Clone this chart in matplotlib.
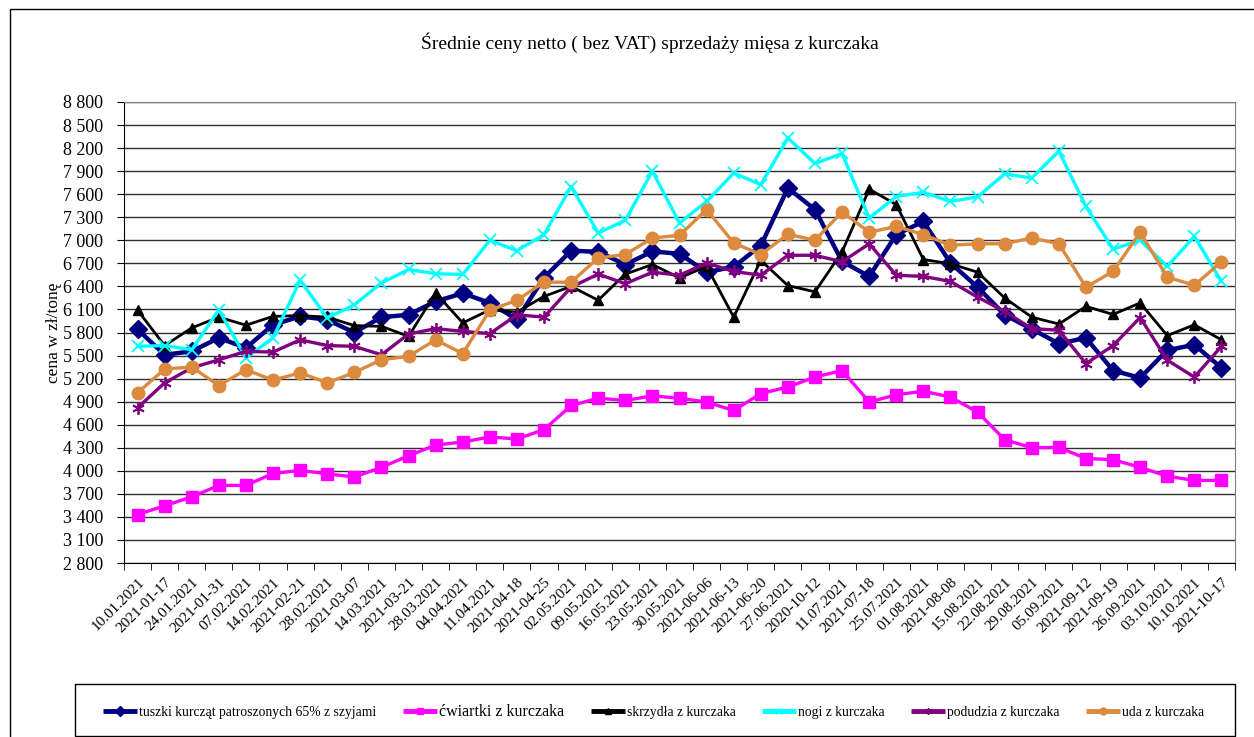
import numpy as np
import matplotlib
matplotlib.use("Agg")
import matplotlib.pyplot as plt
from matplotlib.patches import Rectangle
from matplotlib.ticker import FuncFormatter

plt.rcParams["font.family"] = ["Liberation Serif", "DejaVu Serif"]

dates = ["10.01.2021", "2021-01-17", "24.01.2021", "2021-01-31", "07.02.2021", "14.02.2021",
         "2021-02-21", "28.02.2021", "2021-03-07", "14.03.2021", "2021-03-21", "28.03.2021",
         "04.04.2021", "11.04.2021", "2021-04-18", "2021-04-25", "02.05.2021", "09.05.2021",
         "16.05.2021", "23.05.2021", "30.05.2021", "2021-06-06", "2021-06-13", "2021-06-20",
         "27.06.2021", "2020-10-12", "11.07.2021", "2021-07-18", "25.07.2021", "01.08.2021",
         "2021-08-08", "15.08.2021", "22.08.2021", "29.08.2021", "05.09.2021", "2021-09-12",
         "2021-09-19", "26.09.2021", "03.10.2021", "10.10.2021", "2021-10-17"]

tuszki = [5840, 5510, 5555, 5730, 5600, 5900, 6010, 5965, 5800, 6000, 6030, 6205, 6310,
          6185, 5970, 6515, 6865, 6850, 6685, 6855, 6825, 6585, 6655, 6930, 7680, 7400, 6725,
          6530, 7075, 7245, 6705, 6390, 6030, 5845, 5655, 5730, 5305, 5210, 5570, 5640, 5340]
cwiartki = [3430, 3545, 3660, 3810, 3810, 3965, 4005, 3960, 3920, 4045, 4195, 4335, 4375,
            4440, 4415, 4535, 4850, 4945, 4915, 4975, 4945, 4895, 4785, 5005, 5090, 5220, 5305,
            4895, 4990, 5035, 4960, 4765, 4405, 4300, 4305, 4160, 4145, 4045, 3930, 3875, 3875]
skrzydla = [6090, 5630, 5860, 6000, 5895, 6010, 6020, 6000, 5890, 5880, 5750, 6315, 5925,
            6095, 6065, 6270, 6400, 6220, 6560, 6685, 6510, 6660, 6000, 6740, 6410, 6330, 6850,
            7665, 7465, 6750, 6695, 6585, 6250, 6000, 5910, 6140, 6035, 6185, 5760, 5900, 5705]
nogi = [5620, 5630, 5575, 6095, 5470, 5730, 6480, 5990, 6160, 6445, 6620, 6565, 6555,
        7000, 6865, 7075, 7700, 7095, 7260, 7900, 7225, 7505, 7875, 7725, 8330, 8000, 8130,
        7290, 7570, 7625, 7505, 7565, 7865, 7810, 8160, 7440, 6885, 7000, 6660, 7050, 6465]
podudzia = [4820, 5145, 5340, 5445, 5555, 5545, 5705, 5630, 5620, 5510, 5780, 5850, 5815,
            5785, 6030, 6000, 6390, 6560, 6435, 6585, 6545, 6705, 6595, 6545, 6805, 6805, 6720,
            6955, 6545, 6530, 6465, 6260, 6075, 5850, 5830, 5395, 5630, 5995, 5440, 5220, 5620]
uda = [5015, 5325, 5350, 5110, 5315, 5180, 5275, 5145, 5280, 5445, 5490, 5705, 5525,
       6090, 6220, 6455, 6455, 6770, 6815, 7030, 7065, 7400, 6965, 6815, 7080, 7000, 7370,
       7105, 7180, 7075, 6935, 6955, 6955, 7030, 6955, 6390, 6595, 7105, 6520, 6415, 6720]

y_ticks = list(range(2800, 8801, 300))

ASTER = (6, 2, 0)   # excel-like asterisk marker
series = [
    ("tuszki kurcząt patroszonych 65% z szyjami", tuszki, "#000080", "D", 3.2, 9),
    ("ćwiartki z kurczaka", cwiartki, "#FF00FF", "s", 2.4, 8.5),
    ("skrzydła z kurczaka", skrzydla, "#000000", "^", 2.0, 6.5),
    ("nogi z kurczaka", nogi, "#00FFFF", "x", 2.4, 8.5),
    ("podudzia z kurczaka", podudzia, "#800080", ASTER, 2.4, 9),
    ("uda z kurczaka", uda, "#DB8A3E", "o", 2.4, 9),
]

W, H = 1254, 737
fig = plt.figure(figsize=(W / 100, H / 100), dpi=100)
ax = fig.add_axes([124 / W, 1 - 563 / H, (1235 - 124) / W, (563 - 102) / H])

x = np.arange(len(dates))
for name, vals, col, mk, lw, ms in series:
    mew = 1.3 if mk in ("x", ASTER) else 1.0
    ax.plot(x, vals, color=col, lw=lw, marker=mk, ms=ms, mew=mew,
            mec=col, mfc=col, label=name, zorder=3)

ax.set_xlim(-0.5, len(dates) - 0.5)
ax.set_ylim(y_ticks[0], y_ticks[-1])
ax.set_yticks(y_ticks)
ax.yaxis.set_major_formatter(FuncFormatter(lambda v, p: f"{int(v):,}".replace(",", " ")))
ax.grid(axis="y", color="#303030", lw=1.0, zorder=1)
ax.set_axisbelow(True)

ax.set_xticks(x)
ax.set_xticklabels(dates, rotation=45, ha="right", va="top", rotation_mode="anchor", fontsize=11)
ax.tick_params(axis="x", which="major", length=0, pad=9)
ax.set_xticks(np.arange(-0.5, len(dates)), minor=True)
ax.tick_params(axis="x", which="minor", length=5, direction="out", color="black")
ax.tick_params(axis="y", length=5, direction="out", labelsize=13, pad=10)

for s in ("top", "right"):
    ax.spines[s].set_color("#808080")
for s in ("left", "bottom"):
    ax.spines[s].set_color("black")

ax.set_ylabel("cena w zł/tonę", fontsize=12.5, labelpad=0.5)

fig.text(650 / W, 1 - 43 / H, "Średnie ceny netto ( bez VAT) sprzedaży mięsa z kurczaka",
         ha="center", va="center", fontsize=14)

# outer chart frame (cropped on the right / bottom)
fig.patches.append(Rectangle((10 / W, -0.1), 1.2, 1.1 - 9 / H, transform=fig.transFigure,
                             fill=False, ec="black", lw=1.0))
# legend frame
fig.patches.append(Rectangle((75 / W, 1 - 736 / H), (1235 - 75) / W, (736 - 684) / H,
                             transform=fig.transFigure, fill=False, ec="black", lw=1.0))

leg_handles = [plt.Line2D([], [], color=s[2], lw=3.5, marker=s[3], ms=5, mec=s[2], mfc=s[2],
                          solid_capstyle="butt") for s in series]
leg = fig.legend(leg_handles, [s[0] for s in series], ncol=6, frameon=False,
                 loc="center left", bbox_to_anchor=(103 / W, 1 - 712 / H),
                 handlelength=2.5, handletextpad=0.15, columnspacing=1.95, fontsize=9.8,
                 borderaxespad=0, borderpad=0)
leg.get_texts()[1].set_fontsize(11.5)

fig.savefig("out.png", dpi=100)
